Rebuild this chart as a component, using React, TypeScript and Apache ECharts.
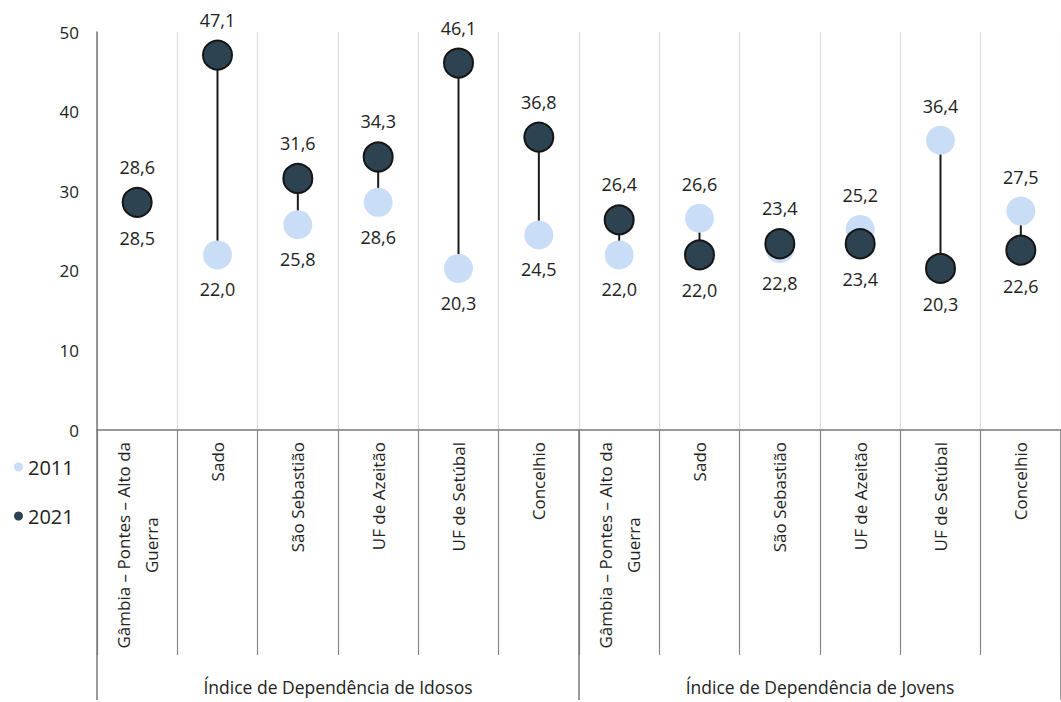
import React, { useEffect, useRef } from "react";
import * as echarts from "echarts";

const categories = [
  "Gâmbia – Pontes – Alto da Guerra",
  "Sado",
  "São Sebastião",
  "UF de Azeitão",
  "UF de Setúbal",
  "Concelhio",
  "Gâmbia – Pontes – Alto da Guerra",
  "Sado",
  "São Sebastião",
  "UF de Azeitão",
  "UF de Setúbal",
  "Concelhio",
];
const groups = ["Índice de Dependência de Idosos", "Índice de Dependência de Jovens"];
const values2011 = [28.5, 22.0, 25.8, 28.6, 20.3, 24.5, 22.0, 26.6, 22.8, 25.2, 36.4, 27.5];
const values2021 = [28.6, 47.1, 31.6, 34.3, 46.1, 36.8, 26.4, 22.0, 23.4, 23.4, 20.3, 22.6];
const yTicks = [0, 10, 20, 30, 40, 50];

const FONT = "'Open Sans', 'Noto Sans', sans-serif";
const fmt = (v: number) => v.toFixed(1).replace(".", ",");

export default function App() {
  const ref = useRef<HTMLDivElement>(null);
  useEffect(() => {
    document.body.style.margin = "0";
    const chart = echarts.init(ref.current!, null, { renderer: "svg" });

    const mk = (vals: number[], other: number[], isNew: boolean) =>
      vals.map((v, i) => {
        const up = isNew ? v >= other[i] : v > other[i];
        return {
          value: [i, v],
          label: { position: up ? "top" : "bottom" },
        };
      });

    const dataLabel = {
      show: true,
      distance: 11,
      fontSize: 18,
      color: "#222",
      fontFamily: FONT,
      formatter: (p: any) => fmt(p.value[1]),
    };

    const option: any = {
      animation: false,
      textStyle: { fontFamily: FONT },
      grid: { left: 97, right: -14, top: 32, bottom: 272, containLabel: false },
      legend: {
        data: ["2011", "2021"],
        orient: "vertical",
        left: 9,
        top: 452,
        itemGap: 29,
        itemWidth: 9,
        itemHeight: 9,
        itemStyle: { borderWidth: 0 },
        textStyle: { fontSize: 20, color: "#222", fontFamily: FONT },
      },
      xAxis: [
        {
          type: "category",
          data: categories,
          boundaryGap: true,
          position: "bottom",
          axisLine: { show: true, lineStyle: { color: "#777", width: 1.5 } },
          axisTick: {
            show: true,
            interval: 0,
            length: 225,
            lineStyle: { color: "#888", width: 1.2 },
          },
          splitLine: { show: true, interval: 0, lineStyle: { color: "#dadada", width: 1.2 } },
          axisLabel: {
            interval: 0,
            rotate: 90,
            margin: 12,
            fontSize: 17,
            color: "#222",
            fontFamily: FONT,
            formatter: (v: string) => {
              const idx = v.indexOf(" Guerra");
              if (idx >= 0) {
                return "{c|" + v.slice(0, idx) + "}\n{c|" + v.slice(idx + 1) + "}";
              }
              return "{c|" + v + "}";
            },
            rich: {
              c: { align: "center", fontSize: 17, color: "#222", fontFamily: FONT, lineHeight: 28 },
            },
          },
        },
        {
          type: "category",
          data: groups,
          boundaryGap: true,
          position: "bottom",
          offset: 0,
          axisLine: { show: false },
          axisTick: {
            show: true,
            interval: 0,
            length: 270,
            lineStyle: { color: "#777", width: 1.5 },
          },
          splitLine: { show: false },
          axisLabel: {
            interval: 0,
            margin: 248,
            fontSize: 17.5,
            color: "#222",
            fontFamily: FONT,
          },
        },
      ],
      yAxis: {
        type: "value",
        min: yTicks[0],
        max: yTicks[yTicks.length - 1],
        interval: 10,
        axisLine: { show: true, lineStyle: { color: "#777", width: 1.5 } },
        axisTick: { show: false },
        splitLine: { show: false },
        axisLabel: { fontSize: 17, color: "#222", margin: 18, fontFamily: FONT },
      },
      series: [
        {
          type: "custom",
          name: "link",
          xAxisIndex: 0,
          z: 1,
          silent: true,
          data: values2011.map((v, i) => [i, v, values2021[i]]),
          encode: { x: 0, y: [1, 2] },
          renderItem: (params: any, api: any) => {
            const p1 = api.coord([api.value(0), api.value(1)]);
            const p2 = api.coord([api.value(0), api.value(2)]);
            return {
              type: "line",
              shape: { x1: p1[0], y1: p1[1], x2: p2[0], y2: p2[1] },
              style: { stroke: "#1a1a1a", lineWidth: 2 },
            };
          },
        },
        {
          type: "scatter",
          name: "2011",
          xAxisIndex: 0,
          z: 2,
          symbol: "circle",
          symbolSize: 29,
          itemStyle: { color: "#c9ddf6", opacity: 1 },
          label: dataLabel,
          data: mk(values2011, values2021, false),
        },
        {
          type: "scatter",
          name: "2021",
          xAxisIndex: 0,
          z: 3,
          symbol: "circle",
          symbolSize: 29,
          itemStyle: { color: "#2e4352", borderColor: "#151515", borderWidth: 2, opacity: 1 },
          label: dataLabel,
          data: mk(values2021, values2011, true),
        },
      ],
    };
    chart.setOption(option);
    return () => chart.dispose();
  }, []);
  return <div ref={ref} style={{ width: 1061, height: 702, background: "#fff" }} />;
}
